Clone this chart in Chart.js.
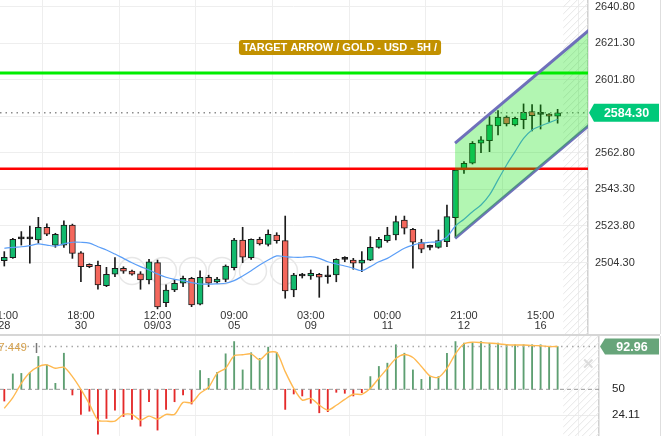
<!DOCTYPE html>
<html><head><meta charset="utf-8">
<script src="https://cdn.jsdelivr.net/npm/chart.js@4.4.1/dist/chart.umd.min.js"></script>
<style>
html,body{margin:0;padding:0;background:#fff;width:665px;height:436px;overflow:hidden;}
#c1{position:absolute;left:0;top:0;}
#sep{position:absolute;left:0;top:334px;width:660px;height:2px;background:#d6d6d6;}
#c2{position:absolute;left:0;top:336px;}
</style></head><body>
<canvas id="c1" width="665" height="334"></canvas>
<div id="sep"></div>
<canvas id="c2" width="665" height="100"></canvas>
<script>
// ---------- DATA ----------
const timeLabels = ['21:00','18:00','12:00','09:00','03:00','00:00','21:00','15:00'];
const dateLabels = ['28','30','09/03','05','09','11','12','16'];
const labelIndex = [0,9,18,27,36,45,54,63];

const opens  = [2505.3,2506.9,2516.9,2516.9,2516.3,2523.1,2513.6,2513.6,2524.3,2509.5,
                2503.3,2502.8,2491.9,2498.0,2501.2,2499.7,2498.2,2495.0,2504.2,2482.8,
                2489.6,2493.2,2495.9,2482.0,2496.4,2493.9,2495.3,2501.5,2516.3,2506.9,
                2516.7,2514.0,2519.0,2516.0,2489.6,2497.1,2497.1,2498.0,2496.7,2497.6,
                2506.0,2505.6,2503.9,2505.6,2512.4,2516.0,2519.0,2527.0,2522.0,2514.9,
                2512.4,2512.4,2515.4,2528.2,2553.7,2557.3,2568.0,2569.4,2577.2,2581.9,
                2577.8,2580.6,2584.9,2583.4,2583.6,2582.5];
const highs  = [2510.1,2517.2,2520.8,2523.8,2528.4,2524.9,2519.9,2526.6,2524.8,2510.1,
                2503.6,2505.1,2501.7,2506.9,2502.0,2500.3,2499.4,2506.0,2505.6,2492.3,
                2495.3,2497.1,2496.4,2499.9,2497.5,2496.4,2503.0,2517.2,2523.1,2516.9,
                2517.8,2521.7,2520.2,2529.1,2498.5,2498.5,2500.3,2498.5,2502.4,2506.3,
                2507.4,2506.5,2510.1,2518.1,2517.8,2523.1,2529.1,2529.1,2522.6,2516.7,
                2513.6,2521.7,2535.0,2554.2,2558.2,2568.9,2571.5,2582.2,2585.4,2582.6,
                2581.9,2589.0,2588.6,2588.5,2583.8,2586.1];
const lows   = [2502.4,2506.5,2513.6,2503.9,2514.6,2518.6,2512.4,2512.4,2506.5,2494.0,
                2501.5,2490.0,2491.4,2496.7,2498.5,2497.5,2490.0,2492.8,2479.5,2480.7,
                2488.7,2491.4,2480.7,2481.6,2491.4,2493.2,2494.0,2500.3,2504.2,2506.0,
                2513.6,2513.1,2514.6,2485.2,2486.0,2496.0,2495.3,2485.7,2493.2,2494.0,
                2504.7,2500.7,2499.4,2505.3,2511.9,2515.1,2516.3,2519.5,2501.3,2509.5,
                2511.0,2511.9,2512.7,2518.1,2551.9,2556.9,2563.0,2563.5,2572.4,2577.2,
                2577.2,2575.7,2574.6,2575.6,2579.5,2578.7];
const closes = [2507.1,2516.7,2516.9,2516.9,2523.1,2519.4,2519.4,2524.3,2509.2,2502.0,
                2502.0,2492.3,2498.0,2501.2,2499.6,2498.1,2495.0,2504.7,2480.5,2489.6,
                2493.2,2495.9,2481.6,2496.4,2493.2,2495.5,2502.4,2516.3,2507.1,2516.7,
                2514.2,2519.4,2516.0,2489.1,2497.6,2497.1,2498.5,2496.4,2496.7,2506.0,
                2506.0,2503.9,2505.6,2512.4,2516.7,2519.0,2526.1,2522.6,2515.1,2511.4,
                2512.4,2516.0,2528.8,2553.7,2557.3,2568.0,2569.8,2577.8,2581.9,2578.3,
                2581.3,2584.5,2582.7,2583.4,2582.5,2584.3];
const maValues = [2511.9,2512.4,2512.7,2513.3,2514.2,2513.6,2513.1,2514.2,2515.1,2515.1,
                2514.6,2512.7,2511.0,2508.8,2506.5,2504.2,2502.1,2500.3,2498.2,2496.4,
                2495.3,2494.6,2493.5,2492.8,2492.7,2492.9,2493.2,2494.6,2497.1,2499.9,
                2502.9,2505.6,2507.8,2507.4,2507.1,2507.1,2507.4,2506.5,2504.7,2503.5,
                2502.4,2501.2,2499.9,2502.1,2504.7,2506.5,2509.2,2511.9,2513.6,2514.6,
                2515.1,2515.4,2518.0,2523.8,2527.4,2531.4,2535.0,2540.4,2548.4,2556.4,
                2563.5,2570.6,2575.1,2577.2,2579.0,2580.8];
const oscBars = [38.2,65.5,66,67,83,74.6,56,86.3,44.3,24.8,
                 28,5,20.7,29,22.6,19.7,13,37.5,9,29.8,
                 37.5,44.3,35.2,68.9,61,67,85.7,98,69.5,86.8,
                 81,92.4,87,29.8,45.3,43.3,36,26.4,27.5,47,
                 46,43.3,46.6,62.8,73,76.3,94.8,86.3,69.5,60,
                 62.8,62.8,86.3,98,96.4,97,98,96.4,96.4,94.8,
                 94.8,94.8,94.8,94.8,93,93];
const oscSignal = [30.8,41.6,56,66.8,72.9,74.6,71.2,72.2,62.8,50,
                 35.2,19,18,18,24.8,24.8,19,23,20,24.8,
                 24.8,36.9,36.5,46,52,66,71.2,83.7,84.7,85.7,
                 79.7,87,87,67.8,51,39.2,40.9,34.2,29,34,
                 39.9,45,45,51,61.2,71,81,85,82,73,
                 63.5,62,71,85.7,95.8,97.4,97,96.4,95.8,94.8,
                 94.5,94.5,94,93.8,93,93];
const priceTicks = [2640.8,2621.3,2601.8,2582.3,2562.8,2543.3,2523.8,2504.3];
const oscTicks = [92.96,50,24.11];
const resistanceLevel = 2605.5;
const supportLevel = 2554.4;
const lastPrice = 2584.3;
const oscLast = 92.96;
const oscMid = 50;
const oscLeftValue = '67.449';
const channelX = [52.95, 68.7];
const channelUpper = [2568.0, 2628.4];
const channelLower = [2517.2, 2577.6];
const futureStart = 65.66;
const titleText = 'TARGET ARROW / GOLD - USD - 5H /';

// ---------- SCALE BOUNDS ----------
const xMin = -0.505, xMainMax = 68.57, xIndMax = 69.86;
const yMin = 2466.1, yMax = 2644.5;
const oMin = 3.07, oMax = 103.6;

const FONT = '"Liberation Sans", Arial, sans-serif';
Chart.defaults.font.family = FONT;

const idx = opens.map((_, i) => i);
const GREEN = '#12b96d', RED = '#f4675c', DARK = '#1b1b1b';
const bodyColors = idx.map(i => closes[i] > opens[i] ? GREEN : (closes[i] < opens[i] ? RED : DARK));

function hatch(ctx, x0, x1, y0, y1) {
  ctx.save();
  ctx.beginPath(); ctx.rect(x0, y0, x1 - x0, y1 - y0); ctx.clip();
  ctx.strokeStyle = '#e6e6e6'; ctx.lineWidth = 1;
  for (let s = x0 - (y1 - y0); s < x1 + 10; s += 7) {
    ctx.beginPath(); ctx.moveTo(s, y1); ctx.lineTo(s + (y1 - y0), y0); ctx.stroke();
  }
  ctx.restore();
}
function badge(ctx, tipX, y, x1, h, color, text) {
  ctx.save();
  ctx.fillStyle = color;
  ctx.beginPath();
  ctx.moveTo(tipX, y);
  ctx.lineTo(tipX + 5, y - h / 2);
  ctx.lineTo(x1, y - h / 2);
  ctx.lineTo(x1, y + h / 2);
  ctx.lineTo(tipX + 5, y + h / 2);
  ctx.closePath(); ctx.fill();
  ctx.fillStyle = '#fff'; ctx.font = 'bold 12.5px ' + FONT;
  ctx.textAlign = 'center'; ctx.textBaseline = 'middle';
  ctx.fillText(text, (tipX + 5 + x1) / 2, y + 0.5);
  ctx.restore();
}

const mainDecor = {
  id: 'mainDecor',
  beforeDatasetsDraw(chart) {
    const a = chart.chartArea, xs = chart.scales.x, ctx = chart.ctx;
    hatch(ctx, xs.getPixelForValue(futureStart), a.right, a.top, a.bottom);
    // faint navigation buttons of the trading UI
    ctx.save(); ctx.strokeStyle = '#e7e7e7'; ctx.lineWidth = 1.5;
    [132, 163, 193, 222, 253, 284].forEach(cx => { ctx.beginPath(); ctx.arc(cx, 271, 13.5, 0, Math.PI * 2); ctx.stroke(); });
    ctx.restore();
  },
  afterDraw(chart) {
    const ctx = chart.ctx, ys = chart.scales.y;
    ctx.save();
    ctx.font = 'bold 11px ' + FONT;
    const w = ctx.measureText(titleText).width + 8;
    const cx = 340, cy = 47.5;
    ctx.fillStyle = '#c29100';
    ctx.beginPath();
    if (ctx.roundRect) ctx.roundRect(cx - w / 2, cy - 7.5, w, 15, 3); else ctx.rect(cx - w / 2, cy - 7.5, w, 15);
    ctx.fill();
    ctx.fillStyle = '#fff'; ctx.textAlign = 'center'; ctx.textBaseline = 'middle';
    ctx.fillText(titleText, cx, cy + 0.5);
    ctx.restore();
    badge(ctx, chart.chartArea.right + 1, ys.getPixelForValue(lastPrice), 659, 18, '#00c97a', lastPrice.toFixed(2));
    ctx.save(); ctx.strokeStyle = '#dedede'; ctx.lineWidth = 1;
    ctx.beginPath(); ctx.moveTo(660.5, 0); ctx.lineTo(660.5, 334); ctx.stroke(); ctx.restore();
  }
};

const levelLine = (v, color, width, dash, maxX) => ({
  type: 'line', data: [{x: xMin, y: v}, {x: maxX, y: v}],
  borderColor: color, borderWidth: width, borderDash: dash || [], pointRadius: 0, fill: false, order: 1
});

new Chart(document.getElementById('c1'), {
  type: 'bar',
  data: {
    datasets: [
      { type: 'line', data: channelX.map((x, k) => ({x, y: channelUpper[k]})),
        borderColor: 'rgba(104,104,184,0.95)', borderWidth: 3, pointRadius: 0,
        fill: '+1', backgroundColor: 'rgba(0,225,0,0.3)', order: 0 },
      { type: 'line', data: channelX.map((x, k) => ({x, y: channelLower[k]})),
        borderColor: 'rgba(104,104,184,0.95)', borderWidth: 3, pointRadius: 0, fill: false, order: 0 },
      levelLine(resistanceLevel, '#00ee00', 3, null, xMainMax),
      levelLine(supportLevel, '#ff0000', 2.5, null, xMainMax),
      levelLine(lastPrice, '#8c8c8c', 1.5, [1.5, 4], xMainMax),
      { type: 'line', data: idx.map(i => ({x: i, y: maValues[i]})), borderColor: '#5b9ef7',
        borderWidth: 1.2, pointRadius: 0, tension: 0.35, fill: false, order: 2 },
      { type: 'bar', data: idx.map(i => ({x: i, y: [opens[i], closes[i]]})),
        backgroundColor: bodyColors, borderColor: DARK, borderWidth: 1, borderSkipped: false,
        barThickness: 6, minBarLength: 2, grouped: false, order: 3 },
      { type: 'bar', data: idx.map(i => ({x: i, y: [lows[i], highs[i]]})),
        backgroundColor: DARK, barThickness: 1, grouped: false, order: 4 }
    ]
  },
  options: {
    responsive: false, animation: false, devicePixelRatio: 1,
    layout: { padding: 0 },
    plugins: { legend: { display: false }, tooltip: { enabled: false } },
    scales: {
      x: { type: 'linear', min: xMin, max: xMainMax, offset: false,
        grid: { color: '#eeeeee', drawTicks: false }, border: { display: false },
        afterBuildTicks: s => { s.ticks = labelIndex.map(v => ({value: v})); },
        afterFit: s => { s.height = 0; s.paddingLeft = 0; s.paddingRight = 0; },
        ticks: { autoSkip: false, maxRotation: 0, mirror: true, padding: 13, color: '#333',
          font: { size: 11, lineHeight: 0.95 },
          callback: v => { const k = labelIndex.indexOf(v); return k < 0 ? '' : [timeLabels[k], dateLabels[k]]; } } },
      y: { type: 'linear', position: 'right', min: yMin, max: yMax,
        grid: { color: '#eeeeee', drawTicks: false }, border: { display: true, color: '#d0d0d0', width: 1.5 },
        afterBuildTicks: s => { s.ticks = priceTicks.map(v => ({value: v})); },
        afterFit: s => { s.width = 77; s.paddingTop = 0; s.paddingBottom = 0; },
        ticks: { padding: 7, color: '#333', font: { size: 11 }, callback: v => Number(v).toFixed(2) } }
    }
  },
  plugins: [mainDecor]
});

// ---------- INDICATOR PANEL ----------
const indDecor = {
  id: 'indDecor',
  beforeDatasetsDraw(chart) {
    const a = chart.chartArea, xs = chart.scales.x;
    hatch(chart.ctx, xs.getPixelForValue(futureStart), a.right, a.top, a.bottom);
  },
  afterDraw(chart) {
    const ctx = chart.ctx, ys = chart.scales.y;
    badge(ctx, chart.chartArea.right + 1, ys.getPixelForValue(oscLast), 659, 16, '#67a57a', oscLast.toFixed(2));
    ctx.save();
    ctx.font = '11.5px ' + FONT; ctx.fillStyle = '#d6a24e';
    ctx.textAlign = 'right'; ctx.textBaseline = 'middle';
    ctx.fillText(oscLeftValue, 27, 12);
    ctx.strokeStyle = '#777'; ctx.lineWidth = 1.5;
    ctx.beginPath(); ctx.moveTo(36.5, 7); ctx.lineTo(36.5, 17); ctx.stroke();
    ctx.fillStyle = '#dcdcdc'; ctx.font = 'bold 15px ' + FONT; ctx.textAlign = 'center';
    ctx.fillText('\u2715', 588, 29);
    ctx.strokeStyle = '#dedede'; ctx.lineWidth = 1;
    ctx.beginPath(); ctx.moveTo(660.5, 0); ctx.lineTo(660.5, 100); ctx.stroke();
    ctx.restore();
  }
};

new Chart(document.getElementById('c2'), {
  type: 'bar',
  data: {
    datasets: [
      { type: 'line', data: idx.map(i => ({x: i, y: oscSignal[i]})), borderColor: '#ffb950',
        borderWidth: 1.4, pointRadius: 0, tension: 0.25, fill: false, order: 0 },
      levelLine(oscLast, '#a8a8a8', 1.5, [1.5, 4], xIndMax),
      levelLine(oscMid, '#9a9a9a', 1, [4, 3], xIndMax),
      { type: 'bar', data: idx.map(i => ({x: i, y: [oscMid, oscBars[i]]})),
        backgroundColor: idx.map(i => oscBars[i] >= oscMid ? '#5e9f72' : '#e42a2a'),
        barThickness: 1.2, grouped: false, order: 2 }
    ]
  },
  options: {
    responsive: false, animation: false, devicePixelRatio: 1,
    layout: { padding: 0 },
    plugins: { legend: { display: false }, tooltip: { enabled: false } },
    scales: {
      x: { type: 'linear', min: xMin, max: xIndMax, offset: false,
        grid: { color: '#f0f0f0', drawTicks: false }, border: { display: false },
        afterBuildTicks: s => { s.ticks = labelIndex.map(v => ({value: v})); },
        afterFit: s => { s.height = 0; s.paddingLeft = 0; s.paddingRight = 0; },
        ticks: { display: false } },
      y: { type: 'linear', position: 'right', min: oMin, max: oMax,
        grid: { color: ctx => (ctx.tick && ctx.tick.value === 24.11) ? '#ececec' : 'rgba(0,0,0,0)', drawTicks: false },
        border: { display: true, color: '#d0d0d0', width: 1.5 },
        afterBuildTicks: s => { s.ticks = oscTicks.map(v => ({value: v})); },
        afterFit: s => { s.width = 66; s.paddingTop = 0; s.paddingBottom = 0; },
        ticks: { padding: 13, color: '#222', font: { size: 11.5 }, callback: v => String(v) } }
    }
  },
  plugins: [indDecor]
});
</script>
</body></html>
